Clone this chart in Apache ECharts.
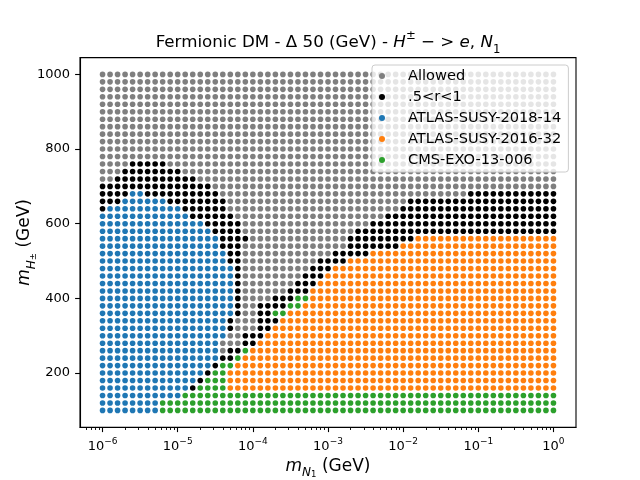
<!DOCTYPE html>
<html>
<head>
<meta charset="utf-8">
<script src="https://cdn.jsdelivr.net/npm/echarts@6/dist/echarts.min.js"></script>
<style>
html,body{margin:0;padding:0;background:#fff;}
#chart{width:640px;height:480px;}
</style>
</head>
<body>
<div id="chart"></div>
<script>
// ---- grid of masses (log10 of m_N1 in GeV, and m_H± in GeV) ----
const xExponents = [-6.0,-5.9,-5.8,-5.7,-5.6,-5.5,-5.4,-5.3,-5.2,-5.1,
  -5.0,-4.9,-4.8,-4.7,-4.6,-4.5,-4.4,-4.3,-4.2,-4.1,
  -4.0,-3.9,-3.8,-3.7,-3.6,-3.5,-3.4,-3.3,-3.2,-3.1,
  -3.0,-2.9,-2.8,-2.7,-2.6,-2.5,-2.4,-2.3,-2.2,-2.1,
  -2.0,-1.9,-1.8,-1.7,-1.6,-1.5,-1.4,-1.3,-1.2,-1.1,
  -1.0,-0.9,-0.8,-0.7,-0.6,-0.5,-0.4,-0.3,-0.2,-0.1,0.0];
const yValues = [1000,980,960,940,920,900,880,860,840,820,800,780,760,740,720,700,
  680,660,640,620,600,580,560,540,520,500,480,460,440,420,400,380,360,340,320,300,
  280,260,240,220,200,180,160,140,120,100];
// status of each grid row (same order as yValues), as runs from the smallest m_N1:
// A = Allowed, K = .5<r<1, B = ATLAS-SUSY-2018-14, O = ATLAS-SUSY-2016-32, G = CMS-EXO-13-006
const rowRuns = [
  'A61','A61','A61','A61','A61','A61','A61','A61','A61','A61','A61','A61',
  'A4 K5 A52',
  'A3 K8 A50',
  'A2 K11 A48',
  'K15 A46',
  'K4 B2 K10 A33 K12',
  'K3 B6 K8 A24 K20',
  'K1 B10 K6 A23 K21',
  'B12 K6 A20 K23',
  'B14 K5 A17 K25',
  'B15 K4 A15 K27',
  'B16 K4 A13 K9 O19',
  'B16 K3 A14 K7 O21',
  'B17 K2 A12 K5 O25',
  'B17 K2 A10 K4 O28',
  'B18 K1 A9 K3 O30',
  'B18 K1 A8 K3 O31',
  'B18 K1 A7 K3 O32',
  'B18 K1 A6 K3 O33',
  'B18 K1 A4 K3 G2 O33',
  'B18 K1 A2 K4 G2 O34',
  'B18 K1 A2 K2 G2 O36',
  'B17 K1 A3 K3 O37',
  'B17 K1 A3 K2 O38',
  'B17 A2 K3 O39',
  'B16 A3 K2 O40',
  'B16 A1 K2 G1 O41',
  'B16 K2 G1 O42',
  'B15 K1 G2 O43',
  'B14 K1 G2 O44',
  'B13 K1 G3 O44',
  'B12 K1 G4 O44',
  'B11 G50',
  'B8 G53',
  'B8 G53'
];
const categoryCodes = ['A','K','B','O','G'];
const categoryNames = ['Allowed','.5<r<1','ATLAS-SUSY-2018-14','ATLAS-SUSY-2016-32','CMS-EXO-13-006'];
const categoryColors = ['#7f7f7f','#000000','#1f77b4','#ff7f0e','#2ca02c'];
const xTickExponents = [-6,-5,-4,-3,-2,-1,0];
const yTickValues = [200,400,600,800,1000];

// ---- build the series data from the grid ----
const pointsByCode = {};
categoryCodes.forEach(c => pointsByCode[c] = []);
rowRuns.forEach((runs, r) => {
  let col = 0;
  runs.split(' ').forEach(tok => {
    const code = tok[0];
    const n = parseInt(tok.slice(1), 10);
    for (let k = 0; k < n; k++) {
      if (col < xExponents.length) {
        pointsByCode[code].push([Math.pow(10, xExponents[col]), yValues[r]]);
      }
      col++;
    }
  });
});

const xMin = Math.pow(10, -6.3), xMax = Math.pow(10, 0.3);
const xTickValues = xTickExponents.map(e => Math.pow(10, e));
const xMinorTicks = [];
for (let e = -7; e <= 0; e++) {
  for (let k = 2; k <= 9; k++) {
    const v = k * Math.pow(10, e);
    if (v > xMin && v < xMax) xMinorTicks.push(v);
  }
}

const FONT = 'DejaVu Sans';
const chart = echarts.init(document.getElementById('chart'), null, {renderer: 'canvas'});
const option = {
  animation: false,
  backgroundColor: '#ffffff',
  title: {
    text: '{n|Fermionic DM - Δ 50 (GeV) - }{i|H}{sp|±}{n| − > }{i|e}{n|, }{i|N}{sb|1}',
    left: 328, top: 30, padding: 0,
    textAlign: 'center', textVerticalAlign: 'top',
    textStyle: {
      fontFamily: FONT, fontSize: 16.7, fontWeight: 'normal', color: '#000',
      rich: {
        n: {fontFamily: FONT, fontSize: 16.7, lineHeight: 26, color: '#000'},
        i: {fontFamily: FONT, fontSize: 16.7, lineHeight: 26, fontStyle: 'italic', color: '#000'},
        sp: {fontFamily: FONT, fontSize: 11.7, lineHeight: 18, verticalAlign: 'top', color: '#000'},
        sb: {fontFamily: FONT, fontSize: 11.7, lineHeight: 16, verticalAlign: 'bottom', color: '#000'}
      }
    }
  },
  legend: {
    orient: 'vertical', left: 372, top: 65,
    padding: [3, 7, 4, 7], itemGap: 5, itemWidth: 26, itemHeight: 6,
    icon: 'circle', selectedMode: false,
    backgroundColor: 'rgba(255,255,255,0.8)', borderColor: '#cccccc', borderWidth: 1, borderRadius: 3,
    textStyle: {fontFamily: FONT, fontSize: 14.6, color: '#000', lineHeight: 16, padding: [0, 0, 0, 8]},
    data: categoryNames
  },
  grid: {left: 80, right: 64, top: 57.6, bottom: 52.8, show: true, borderColor: '#000', borderWidth: 1.1,
         containLabel: false, outerBoundsMode: 'none'},
  xAxis: [
    {
      type: 'log', logBase: 10, min: xMin, max: xMax, position: 'bottom',
      axisLine: {show: true, onZero: false, lineStyle: {color: '#000', width: 1.1}},
      axisTick: {show: true, inside: false, length: 4.9, customValues: xTickValues, lineStyle: {color: '#000', width: 1.1}},
      minorTick: {show: false},
      splitLine: {show: false},
      axisLabel: {
        customValues: xTickValues, margin: 10, color: '#000',
        formatter: v => {
          const e = Math.round(Math.log10(v));
          return '{b|10}{s|' + (e < 0 ? '\u2212' + (-e) : String(e)) + '}';
        },
        rich: {
          b: {fontFamily: FONT, fontSize: 13, lineHeight: 18, color: '#000'},
          s: {fontFamily: FONT, fontSize: 9, lineHeight: 10, verticalAlign: 'top', color: '#000'}
        }
      },
      name: '{i|m}{sb|N}{ssb|1}{n| (GeV)}',
      nameLocation: 'middle', nameGap: 26, nameMoveOverlap: false,
      nameTextStyle: {
        fontFamily: FONT, fontSize: 17, color: '#000',
        rich: {
          n: {fontFamily: FONT, fontSize: 17, lineHeight: 26, color: '#000'},
          i: {fontFamily: FONT, fontSize: 17, lineHeight: 26, fontStyle: 'italic', color: '#000'},
          sb: {fontFamily: FONT, fontSize: 12, lineHeight: 16, verticalAlign: 'bottom', fontStyle: 'italic', color: '#000'},
          ssb: {fontFamily: FONT, fontSize: 8.5, lineHeight: 10, verticalAlign: 'bottom', color: '#000'}
        }
      }
    },
    {
      type: 'log', logBase: 10, min: xMin, max: xMax, position: 'bottom',
      axisLine: {show: false},
      axisTick: {show: true, inside: false, length: 2.8, customValues: xMinorTicks, lineStyle: {color: '#000', width: 0.9}},
      axisLabel: {show: false},
      splitLine: {show: false}
    }
  ],
  yAxis: {
    type: 'value', min: 55, max: 1045,
    axisLine: {show: true, onZero: false, lineStyle: {color: '#000', width: 1.1}},
    axisTick: {show: true, inside: false, length: 4.9, customValues: yTickValues, lineStyle: {color: '#000', width: 1.1}},
    splitLine: {show: false},
    axisLabel: {customValues: yTickValues, margin: 10, color: '#000', fontFamily: FONT, fontSize: 13,
                formatter: v => String(v)},
    name: '{i|m}{sb|H}{ssp|±}{n| (GeV)}',
    nameLocation: 'middle', nameRotate: 90, nameGap: 42, nameMoveOverlap: false,
    nameTextStyle: {
      fontFamily: FONT, fontSize: 17, color: '#000',
      rich: {
        n: {fontFamily: FONT, fontSize: 17, lineHeight: 26, color: '#000'},
        i: {fontFamily: FONT, fontSize: 17, lineHeight: 26, fontStyle: 'italic', color: '#000'},
        sb: {fontFamily: FONT, fontSize: 12, lineHeight: 16, verticalAlign: 'bottom', fontStyle: 'italic', color: '#000'},
        ssp: {fontFamily: FONT, fontSize: 8.5, lineHeight: 22, verticalAlign: 'bottom', color: '#000'}
      }
    }
  },
  series: categoryCodes.map((code, i) => ({
    name: categoryNames[i],
    type: 'scatter',
    xAxisIndex: 0, yAxisIndex: 0,
    symbol: 'circle', symbolSize: 5.6,
    silent: true,
    itemStyle: {color: categoryColors[i], opacity: 1},
    data: pointsByCode[code]
  }))
};
chart.setOption(option);
</script>
</body>
</html>
